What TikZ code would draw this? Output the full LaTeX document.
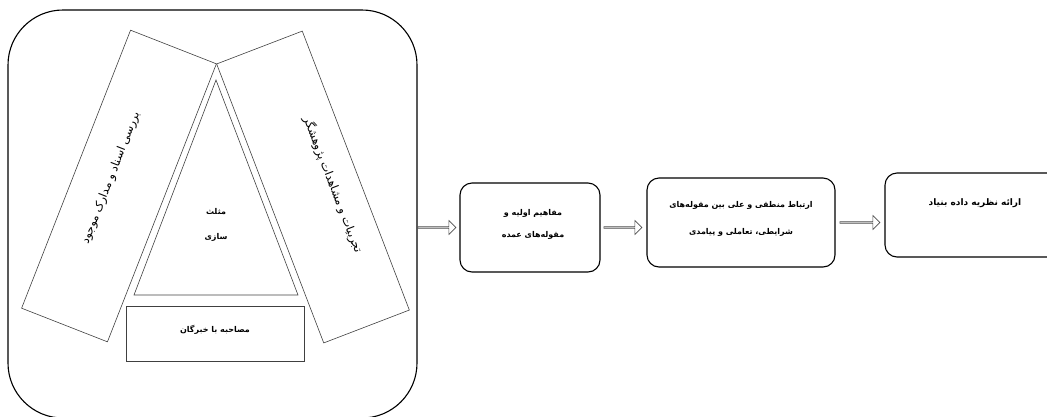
\documentclass[tikz,border=0pt]{standalone}
\usepackage{fontspec}
\newfontfamily\arabicfont[Script=Arabic]{DejaVu Sans}
\TeXXeTstate=1
\usetikzlibrary{shapes.arrows,calc}
\begin{document}
\begin{tikzpicture}[x=1pt,y=-1pt,
  outerline/.style={draw=black, line width=1.1pt, inner sep=0pt},
  thinbox/.style={draw=black!75, line width=0.6pt, inner sep=0pt},
  procbox/.style={draw=black, line width=1.1pt, rounded corners=12pt, inner sep=0pt},
  blockarrow/.style={single arrow, draw=black!70, line width=0.6pt, minimum height=38pt, minimum width=14pt, single arrow head extend=2.5pt, inner sep=0pt},
  rtext/.style={font=\arabicfont\fontsize{11.5}{13}\selectfont},
  btext/.style={font=\arabicfont\bfseries\fontsize{8}{10}\selectfont}
]
\useasboundingbox (0,0) rectangle (1047,416);
\clip (0,0) rectangle (1047,416);

% outer rounded frame
\node[outerline, rounded corners=55pt, minimum width=409pt, minimum height=408pt] (outer) at (212.5,214) {};

% tilted boxes
\node[thinbox, rotate=68.6, minimum width=298.6pt, minimum height=92.2pt] (leftbox) at (119,186) {};
\node[thinbox, rotate=-69, minimum width=298.8pt, minimum height=91.7pt] (rightbox) at (313,187) {};
\node[rtext, rotate=68.6] (lefttext) at (111,178) {\beginR بررسی اسناد و مدارک موجود\endR};
\node[rtext, rotate=-69] (righttext) at (333,185) {\beginR تجربیات و مشاهدات پژوهشگر\endR};

% triangle
\coordinate (tA) at (216,80);
\coordinate (tB) at (134,295);
\coordinate (tC) at (298,295);
\draw[thinbox] (tA) -- (tB) -- (tC) -- cycle;
\node[btext] (tri1) at (216,212) {\beginR مثلث\endR};
\node[btext] (tri2) at (216,237) {\beginR سازی\endR};

% interview box
\node[thinbox, minimum width=178pt, minimum height=55pt] (interview) at (215,333.5) {};
\node[btext] (interviewtext) at (215,330) {\beginR مصاحبه با خبرگان\endR};

% process boxes
\node[procbox, minimum width=140pt, minimum height=89pt] (b2) at (530,227.5) {};
\node[btext] (b2t1) at (533,213) {\beginR مفاهیم اولیه و\endR};
\node[btext] (b2t2) at (533,235) {\beginR مقوله‌های عمده\endR};

\node[procbox, minimum width=188pt, minimum height=89pt] (b3) at (741,222.5) {};
\node[btext] (b3t1) at (741,205) {\beginR ارتباط منطقی و علی بین مقوله‌های\endR};
\node[btext] (b3t2) at (741,232) {\beginR شرایطی، تعاملی و پیامدی\endR};

\node[procbox, minimum width=175pt, minimum height=84pt] (b4) at (972.5,215) {};
\node[btext, font=\arabicfont\bfseries\fontsize{9}{11}\selectfont] (b4t) at (975,203) {\beginR ارائه نظریه داده بنیاد\endR};

% block arrows
\node[blockarrow, anchor=tail] (a1) at (outer.east |- b2.center) {};
\node[blockarrow, anchor=tail] (a2) at ([xshift=3pt]b2.east) {};
\node[blockarrow, anchor=tail, minimum height=40pt] (a3) at ([xshift=4pt]b3.east) {};
\end{tikzpicture}
\end{document}
